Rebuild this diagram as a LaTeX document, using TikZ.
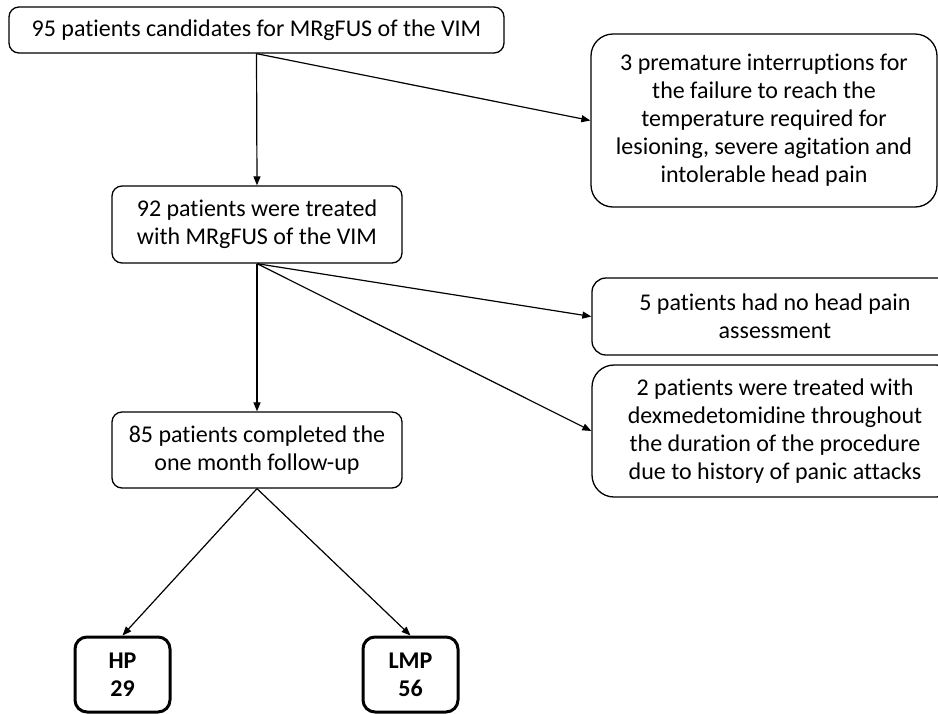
\documentclass[tikz,border=0pt]{standalone}
\usepackage{fontspec}
\setmainfont{Carlito}[Ligatures={NoCommon}]
\usetikzlibrary{arrows.meta}
\begin{document}
\begin{tikzpicture}[x=1pt,y=-1pt,
  box/.style={draw, line width=1.3pt, rounded corners=10pt, align=center, inner sep=0pt,
    font=\fontsize{24}{28}\selectfont},
  bigbox/.style={box, rounded corners=22pt},
  endbox/.style={draw, line width=3pt, rounded corners=12pt, align=center, inner sep=0pt,
    font=\fontsize{24}{28}\selectfont\bfseries, minimum width=95pt, minimum height=75pt},
  arr/.style={-{Triangle[length=9pt,width=7pt]}, line width=1.2pt}]
\useasboundingbox (0,0) rectangle (938,713);
\fill[white] (0,0) rectangle (938,713);
\node[box, minimum width=495pt, minimum height=46pt] (top) at (256.5,30) {95 patients candidates for MRgFUS of the VIM};
\node[bigbox, minimum width=346pt, minimum height=173pt] (r1) at (764,120.5) {3 premature interruptions for\\the failure to reach the\\temperature required for\\lesioning, severe agitation and\\intolerable head pain};
\node[box, minimum width=290pt, minimum height=77pt] (n92) at (257,224.5) {92 patients were treated\\with MRgFUS of the VIM};
\node[box, rounded corners=14pt, minimum width=366pt, minimum height=77pt] (r2) at (775,316.5) {5 patients had no head pain\\assessment};
\node[bigbox, minimum width=366pt, minimum height=132pt] (r3) at (775,431) {2 patients were treated with\\dexmedetomidine throughout\\the duration of the procedure\\due to history of panic attacks};
\node[box, minimum width=290pt, minimum height=76pt] (n85) at (257,450) {85 patients completed the\\one month follow-up};
\node[endbox] (hp) at (122.5,674.5) {HP\\29};
\node[endbox] (lmp) at (410.5,674.5) {LMP\\56};
\draw[arr] (top.south) -- (n92.north);
\draw[arr] (top.south) -- (r1.west);
\draw[arr] (n92.south) -- (r2.west);
\draw[arr] (n92.south) -- (r3.west);
\draw[arr] (n92.south) -- (n85.north);
\draw[arr] (n85.south) -- (hp.north);
\draw[arr] (n85.south) -- (lmp.north);
\end{tikzpicture}
\end{document}
